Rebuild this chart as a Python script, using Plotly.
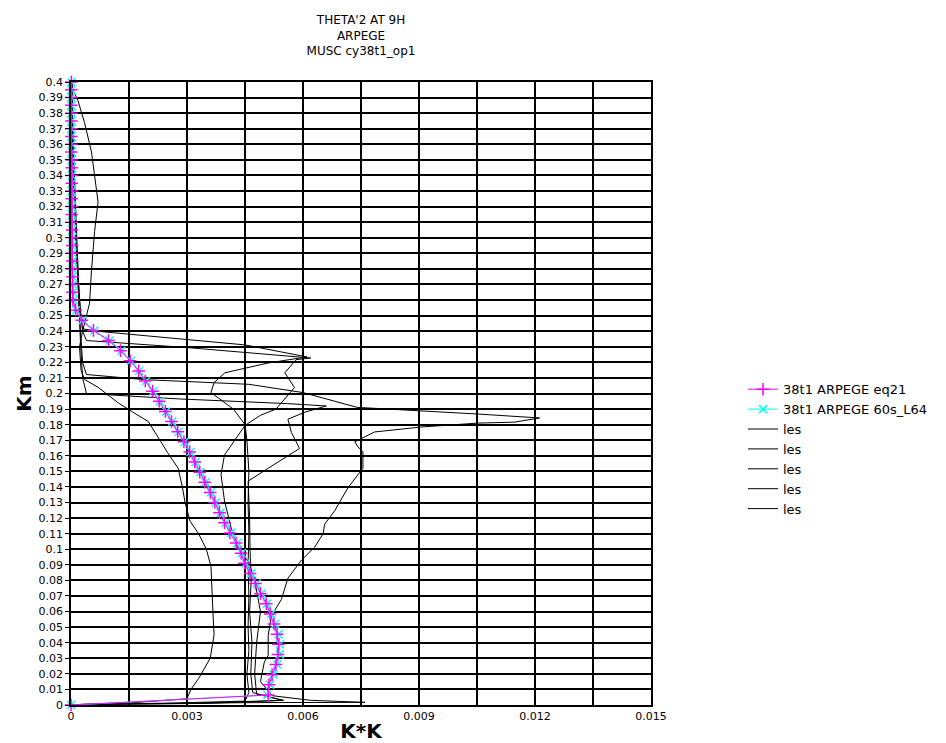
import plotly.graph_objects as go

# ---------------- data ----------------
y_arp = [0, 0.0064, 0.013, 0.0195, 0.026, 0.0325, 0.039, 0.0455, 0.052, 0.0585,
         0.065, 0.0715, 0.078, 0.0845, 0.091, 0.0975, 0.104, 0.1105, 0.117, 0.1235,
         0.13, 0.1365, 0.143, 0.1495, 0.156, 0.1625, 0.169, 0.1755, 0.182, 0.1885,
         0.195, 0.2015, 0.208, 0.2145, 0.221, 0.2275, 0.234, 0.2405, 0.247, 0.2535,
         0.26, 0.265, 0.27, 0.275, 0.28, 0.285, 0.29, 0.295, 0.3, 0.305,
         0.31, 0.315, 0.32, 0.325, 0.33, 0.335, 0.34, 0.345, 0.35, 0.355,
         0.36, 0.365, 0.37, 0.375, 0.38, 0.385, 0.39, 0.395, 0.4]

x_eq21 = [0, 0.0051, 0.00512, 0.0052, 0.0053, 0.00535, 0.00537, 0.00533, 0.00525, 0.00515,
          0.00505, 0.0049, 0.00477, 0.00463, 0.00449, 0.0044, 0.00427, 0.00411, 0.00397, 0.00384,
          0.00372, 0.0036, 0.00346, 0.00333, 0.0032, 0.00307, 0.00292, 0.00276, 0.0026, 0.00244,
          0.00228, 0.00211, 0.00192, 0.00175, 0.00153, 0.00128, 0.00097, 0.00058, 0.00028, 0.00012,
          0.00005, 0.00004, 0.00004, 0.00004, 0.00003, 0.00003, 0.00003, 0.00003, 0.00003, 0.00003,
          0.00002, 0.00002, 0.00002, 0.00002, 0.00002, 0.00002, 0.00002, 0.00002, 0.00002, 0.00001,
          0.00001, 0.00001, 0.00001, 0.00001, 0.00001, 0.00001, 0.00001, 0.00001, 0.00001]

x_60s = [0, 0.00508, 0.00515, 0.00524, 0.00533, 0.0054, 0.0054, 0.00537, 0.00528, 0.00518,
         0.00507, 0.00493, 0.0048, 0.00466, 0.00452, 0.00442, 0.0043, 0.00414, 0.004, 0.00387,
         0.00374, 0.00362, 0.00348, 0.00335, 0.00322, 0.00309, 0.00294, 0.00278, 0.00262, 0.00246,
         0.0023, 0.00213, 0.00194, 0.00176, 0.00155, 0.0013, 0.001, 0.0006, 0.0003, 0.00013,
         0.00006, 0.00005, 0.00005, 0.00004, 0.00004, 0.00004, 0.00004, 0.00003, 0.00003, 0.00003,
         0.00003, 0.00003, 0.00002, 0.00002, 0.00002, 0.00002, 0.00002, 0.00002, 0.00002, 0.00002,
         0.00002, 0.00001, 0.00001, 0.00001, 0.00001, 0.00001, 0.00001, 0.00001, 0.00001]

les1_y = [0, 0.0005, 0.0015, 0.004, 0.01, 0.017, 0.03, 0.045, 0.06, 0.075, 0.089, 0.1, 0.11,
          0.118, 0.13, 0.14, 0.152, 0.162, 0.173, 0.182, 0.188, 0.194, 0.204, 0.209, 0.215,
          0.23, 0.24, 0.249, 0.258, 0.279, 0.304, 0.323, 0.34, 0.355, 0.374, 0.388, 0.395, 0.4]
les1_x = [0, 0.0003, 0.0016, 0.003, 0.0031, 0.0033, 0.0036, 0.0037, 0.00367, 0.00365, 0.00362,
          0.0035, 0.0033, 0.00308, 0.00295, 0.00288, 0.00277, 0.0025, 0.00223, 0.002, 0.0016,
          0.00122, 0.0007, 0.00035, 0.00026, 0.00022, 0.0003, 0.00039, 0.00048, 0.00053, 0.00061,
          0.0007, 0.00062, 0.00053, 0.00035, 0.00018, 0.00005, 0.00002]

les2_y = [0, 0.0005, 0.0012, 0.0025, 0.008, 0.02, 0.035, 0.05, 0.07, 0.09, 0.11, 0.13, 0.15,
          0.17, 0.18, 0.19, 0.2006, 0.207, 0.2133, 0.2196, 0.2235, 0.2312, 0.2397, 0.2415, 0.25,
          0.27, 0.3, 0.33, 0.36, 0.39, 0.4]
les2_x = [0, 0.0005, 0.0025, 0.0045, 0.0046, 0.00455, 0.0046, 0.00458, 0.0046, 0.00458, 0.0046,
          0.00458, 0.0046, 0.00455, 0.0045, 0.0042, 0.00362, 0.0037, 0.00398, 0.0051, 0.0061,
          0.0045, 0.0008, 0.0003, 0.00025, 0.0002, 0.00015, 0.0001, 0.00006, 0.00003, 0.00002]

les3_y = [0, 0.0005, 0.001, 0.003, 0.008, 0.02, 0.04, 0.06, 0.08, 0.1, 0.12, 0.1437, 0.152,
          0.1647, 0.175, 0.1835, 0.188, 0.192, 0.1935, 0.1965, 0.2, 0.21, 0.23, 0.26, 0.3,
          0.35, 0.4]
les3_x = [0, 0.0008, 0.003, 0.00546, 0.0047, 0.00465, 0.00468, 0.00462, 0.00466, 0.00463,
          0.00462, 0.00458, 0.0051, 0.00591, 0.0057, 0.00561, 0.00605, 0.0066, 0.0056, 0.0028,
          0.0004, 0.0003, 0.00025, 0.0002, 0.00012, 0.00005, 0.00002]

les4_y = [0, 0.0005, 0.0015, 0.0017, 0.003, 0.006, 0.015, 0.0276, 0.0318, 0.0445, 0.0571,
          0.0677, 0.0814, 0.093, 0.1013, 0.11, 0.1161, 0.1247, 0.1394, 0.152, 0.1626, 0.1658,
          0.169, 0.171, 0.1753, 0.1785, 0.181, 0.1816, 0.1843, 0.1868, 0.19, 0.1911, 0.2006,
          0.2059, 0.2089, 0.2122, 0.22, 0.25, 0.3, 0.35, 0.4]
les4_x = [0, 0.0006, 0.0045, 0.0076, 0.0062, 0.0052, 0.0049, 0.005, 0.0051, 0.0051, 0.00518,
          0.00544, 0.00561, 0.00596, 0.0063, 0.00652, 0.00656, 0.00682, 0.00716, 0.00755,
          0.00755, 0.00742, 0.00734, 0.0075, 0.00785, 0.00906, 0.01053, 0.01147, 0.01212,
          0.01053, 0.0082, 0.0074, 0.006, 0.0046, 0.0019, 0.0004, 0.0003, 0.00022, 0.00013,
          0.00006, 0.00002]

les5_y = [0, 0.0005, 0.001, 0.003, 0.007, 0.02, 0.04, 0.06, 0.08, 0.0915, 0.1015, 0.114,
          0.131, 0.148, 0.1605, 0.1795, 0.186, 0.19, 0.2038, 0.2133, 0.2217, 0.2228, 0.2295,
          0.234, 0.24, 0.26, 0.3, 0.35, 0.4]
les5_x = [0, 0.0007, 0.0035, 0.0055, 0.0048, 0.00475, 0.0048, 0.0049, 0.00475, 0.0046,
          0.0043, 0.00414, 0.00397, 0.00388, 0.00397, 0.0045, 0.0049, 0.0053, 0.00578,
          0.00553, 0.00582, 0.0062, 0.003, 0.0004, 0.0003, 0.00022, 0.00012, 0.00005, 0.00002]

x_tick_vals = [0, 0.0015, 0.003, 0.0045, 0.006, 0.0075, 0.009, 0.0105, 0.012, 0.0135, 0.015]
x_tick_text = ["0", "", "0.003", "", "0.006", "", "0.009", "", "0.012", "", "0.015"]
y_tick_vals = [round(i * 0.01, 2) for i in range(41)]
y_tick_text = [f"{v:g}" for v in y_tick_vals]

title_lines = ["THETA'2 AT 9H", "ARPEGE", "MUSC cy38t1_op1"]
name_eq21 = "38t1 ARPEGE eq21"
name_60s = "38t1 ARPEGE 60s_L64"
name_les = "les"

# ---------------- figure ----------------
FONT = "DejaVu Sans, Liberation Sans, Arial, sans-serif"
fig = go.Figure()

les_sets = [(les1_x, les1_y), (les2_x, les2_y), (les3_x, les3_y), (les4_x, les4_y), (les5_x, les5_y)]
for i, (lx, ly) in enumerate(les_sets):
    fig.add_trace(go.Scatter(x=lx, y=ly, mode="lines", name=name_les,
                             line=dict(color="black", width=1), legendrank=10 + i,
                             cliponaxis=False))

fig.add_trace(go.Scatter(x=x_60s, y=y_arp, mode="lines+markers", name=name_60s,
                         line=dict(color="#00ffff", width=1),
                         marker=dict(symbol="x-thin-open", size=8, color="#00ffff",
                                     line=dict(width=1.5, color="#00ffff")),
                         legendrank=2, cliponaxis=False))
fig.add_trace(go.Scatter(x=x_eq21, y=y_arp, mode="lines+markers", name=name_eq21,
                         line=dict(color="#ff00ff", width=1),
                         marker=dict(symbol="cross-thin-open", size=9, color="#ff00ff",
                                     line=dict(width=1.5, color="#ff00ff")),
                         legendrank=1, cliponaxis=False))

L, R, T, B = 63, 303, 74, 38
PW, PH = 946 - L - R, 743 - T - B
fig.update_layout(
    width=946, height=743,
    margin=dict(l=L, r=R, t=T, b=B, pad=0),
    paper_bgcolor="white", plot_bgcolor="white",
    font=dict(family=FONT, size=12, color="black"),
    title=dict(text="<br>".join(title_lines), x=(L + PW / 2) / 946, xanchor="center",
               y=1 - 16 / 743, yanchor="top", font=dict(size=12, family=FONT, color="black")),
    showlegend=True,
    legend=dict(x=(735 - L) / PW, xanchor="left", y=(743 - B - 370) / PH,
                yanchor="top", bgcolor="rgba(0,0,0,0)", borderwidth=0,
                font=dict(size=13, family=FONT, color="black"), tracegroupgap=0),
    xaxis=dict(range=[0, 0.015], tickvals=x_tick_vals, ticktext=x_tick_text,
               showgrid=True, gridcolor="black", gridwidth=1.5, zeroline=False,
               showline=True, linecolor="black", linewidth=1.5, mirror=True,
               ticks="", tickfont=dict(size=11),
               title=dict(text="K*K", font=dict(size=20, family=FONT, weight="bold"), standoff=2)),
    yaxis=dict(range=[0, 0.4], tickvals=y_tick_vals, ticktext=y_tick_text,
               showgrid=True, gridcolor="black", gridwidth=1.5, zeroline=False,
               showline=True, linecolor="black", linewidth=1.5, mirror=True,
               ticks="outside", ticklen=4, tickcolor="black", tickfont=dict(size=11),
               title=dict(text="Km", font=dict(size=20, family=FONT, weight="bold"), standoff=2)),
)

fig.write_html("out.html")
